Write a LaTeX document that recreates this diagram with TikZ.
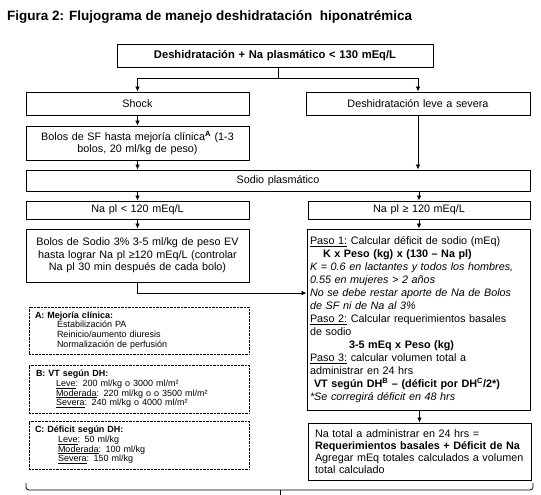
\documentclass[tikz,border=0pt]{standalone}
\usepackage{fontspec}
\setmainfont{Liberation Sans}
\usetikzlibrary{arrows.meta}
\begin{document}
\begin{tikzpicture}[x=1pt,y=-1pt,
 box/.style={draw, line width=0.9pt, inner xsep=4pt, inner ysep=0pt, align=center, font=\fontsize{10.8}{12.5}\selectfont},
 note/.style={draw, line width=0.7pt, dash pattern=on 0.7pt off 0.7pt, inner xsep=6pt, inner ysep=0pt, align=left, font=\fontsize{9}{9.8}\selectfont},
 arr/.style={-{Latex[length=5pt,width=4.5pt]}, line width=0.8pt},
 ln/.style={line width=0.8pt}]
\useasboundingbox (0,0) rectangle (541,495);
\node[anchor=base west, font=\bfseries\fontsize{13.5}{15}\selectfont, inner sep=0pt] (title) at (7,21) {Figura 2: Flujograma de manejo deshidratación\ \ hiponatrémica};
\node[box, font=\bfseries\fontsize{11.2}{13}\selectfont, text width=308pt, minimum height=23pt] (top) at (275,55.5) {Deshidratación + Na plasmático < 130 mEq/L};
\node[box, text width=215pt, minimum height=23pt] (shock) at (137.5,103.5) {Shock};
\node[box, text width=216pt, minimum height=23pt] (leve) at (418,103.5) {Deshidratación leve a severa};
\node[box, text width=215pt, minimum height=34pt] (bsf) at (137.5,143) {Bolos de SF hasta mejoría clínica\textsuperscript{\textbf{A}} (1-3\\bolos, 20 ml/kg de peso)};
\node[box, text width=496pt, minimum height=21pt] (sodio) at (278,180.5) {Sodio plasmático};
\node[box, text width=215pt, minimum height=18pt] (nalow) at (137.5,210) {Na pl < 120 mEq/L};
\node[box, text width=214pt, minimum height=18pt] (nahigh) at (419,210) {Na pl ≥ 120 mEq/L};
\node[box, text width=215pt, minimum height=53pt] (bsodio) at (137.5,255.5) {Bolos de Sodio 3\% 3-5 ml/kg de peso EV\\hasta lograr Na pl ≥120 mEq/L (controlar\\Na pl 30 min después de cada bolo)};
\node[box, align=left, inner xsep=3pt, text width=217pt, minimum height=181pt, font=\fontsize{10.8}{13}\selectfont] (paso) at (418.5,319.5) {\underline{Paso 1:} Calcular déficit de sodio (mEq)\\
\hspace*{13pt}\textbf{K x Peso (kg) x (130 – Na pl)}\\
\textit{K = 0.6 en lactantes y todos los hombres,}\\
\textit{0.55 en mujeres > 2 años}\\
\textit{No se debe restar aporte de Na de Bolos}\\
\textit{de SF ni de Na al 3\%}\\
\underline{Paso 2:} Calcular requerimientos basales\\
de sodio\\
\hspace*{39pt}\textbf{3-5 mEq x Peso (kg)}\\
\underline{Paso 3:} calcular volumen total a\\
administrar en 24 hrs\\
\hspace*{4pt}\textbf{VT según DH\textsuperscript{B} – (déficit por DH\textsuperscript{C}/2*)}\\
\textit{*Se corregirá déficit en 48 hrs}};
\node[note, text width=208pt, minimum height=47pt] (notea) at (139,330.5) {\textbf{A: Mejoría clínica:}\\
\hspace*{22pt}Estabilización PA\\
\hspace*{22pt}Reinicio/aumento diuresis\\
\hspace*{22pt}Normalización de perfusión};
\node[note, text width=206pt, inner xsep=7pt, minimum height=48pt] (noteb) at (139,389) {\textbf{B: VT según DH:}\\
\hspace*{20pt}\underline{Leve}: 200 ml/kg o 3000 ml/m²\\
\hspace*{20pt}\underline{Moderada}: 220 ml/kg o o 3500 ml/m²\\
\hspace*{20pt}\underline{Severa}: 240 ml/kg o 4000 ml/m²};
\node[note, text width=208pt, minimum height=48pt] (notec) at (139,445) {\textbf{C: Déficit según DH:}\\
\hspace*{23pt}\underline{Leve}: 50 ml/kg\\
\hspace*{23pt}\underline{Moderada}: 100 ml/kg\\
\hspace*{23pt}\underline{Severa}: 150 ml/kg};
\node[box, align=left, inner xsep=7pt, text width=209pt, minimum height=57pt, font=\fontsize{10.8}{12}\selectfont] (natotal) at (419.5,451.5) {Na total a administrar en 24 hrs =\\
\textbf{Requerimientos basales + Déficit de Na}\\
Agregar mEq totales calculados a volumen\\
total calculado};
% connectors
\coordinate (split) at (278,78);
\draw[ln] (top.south -| split) -- (split);
\draw[arr] (split) -| (shock.north);
\draw[arr] (split) -| (leve.north);
\draw[arr] (shock) -- (bsf);
\draw[arr] (bsf) -- (bsf |- sodio.north);
\draw[arr] (leve) -- (leve |- sodio.north);
\draw[arr] (sodio.south -| nalow) -- (nalow);
\draw[arr] (sodio.south -| nahigh) -- (nahigh);
\draw[arr] (nalow) -- (bsodio);
\draw[arr] (nahigh) -- (nahigh |- paso.north);
\coordinate (elbow) at (137.5,293);
\draw[arr] (bsodio) -- (elbow) -- (elbow -| paso.west);
\draw[arr] (paso.south -| natotal) -- (natotal);
% bottom bracket
\coordinate (bl) at (26,483);
\coordinate (br) at (533,483);
\coordinate (bmid) at (280,490);
\coordinate (bout) at (280,495);
\draw[ln, rounded corners=3pt] (bl) -- (26,490) -- (533,490) -- (br);
\draw[ln] (bmid) -- (bout);
\end{tikzpicture}
\end{document}
